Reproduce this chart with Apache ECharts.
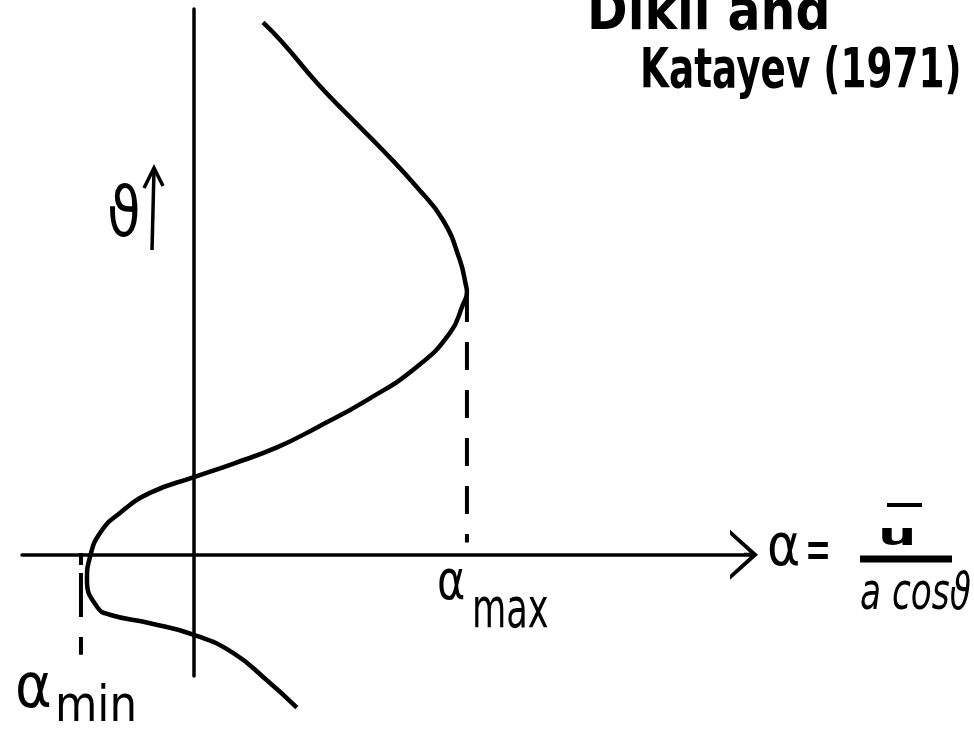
<!DOCTYPE html>
<html>
<head>
<meta charset="utf-8">
<script src="https://cdn.jsdelivr.net/npm/echarts@6/dist/echarts.min.js"></script>
<style>
  html, body { margin: 0; padding: 0; background: #fff; }
  #main { width: 974px; height: 730px; }
</style>
</head>
<body>
<div id="main"></div>
<script>
// alpha profile against latitude (sketch, Dikii and Katayev 1971)
// alpha in units of alpha_max, theta in degrees
const alphaVals = [0.253, 0.326, 0.451, 0.571, 0.692, 0.817, 0.912, 0.974, 0.996, 1.0, 0.985, 0.938, 0.817, 0.634, 0.451, 0.304, 0.143, 0.0, -0.161, -0.271, -0.344, -0.381, -0.392, -0.355, -0.308, -0.161, 0.0, 0.143, 0.267, 0.377];
const thetaVals = [87.8, 84.4, 77.8, 72.2, 66.7, 60.6, 55.2, 48.6, 44.5, 43.3, 41.2, 36.6, 31.0, 25.5, 21.0, 17.7, 15.0, 12.8, 10.2, 6.9, 3.6, -0.4, -4.2, -8.6, -9.9, -11.3, -13.2, -16.2, -20.7, -25.2];

const alphaMax = 1.0;
const alphaMaxDrop = [43.0, 2.0];   // theta range of the dashed drop line
const alphaMin = -0.414;
const alphaMinDrop = [0.3, -16.5];

const xRange = [-0.63, 2.015];
const yRange = [-20, 90];

const chart = echarts.init(document.getElementById('main'), null, { renderer: 'canvas' });

const curve = alphaVals.map((a, i) => [a, thetaVals[i]]);

const FONT = 'DejaVu Sans';

function txt(text, x, y, size, opts) {
  opts = opts || {};
  return {
    type: 'text',
    x: x, y: y,
    scaleX: opts.sx || 1,
    scaleY: opts.sy || 1,
    silent: true,
    style: {
      text: text,
      fontFamily: FONT,
      fontSize: size,
      fontWeight: opts.weight || 'normal',
      fontStyle: opts.style || 'normal',
      fill: '#000',
      textAlign: 'left',
      textVerticalAlign: 'middle'
    }
  };
}

const option = {
  backgroundColor: '#fff',
  animation: false,
  grid: { left: 22, right: 230, top: 9, bottom: 54 },
  xAxis: {
    type: 'value',
    min: xRange[0],
    max: xRange[1],
    axisLine: {
      onZero: true,
      lineStyle: { color: '#000', width: 3.5 },
      symbol: ['none', 'path://M0,28 L25,0 L50,28 L45,28 L25,6 L5,28 Z M23,4 L27,4 L27,14 L23,14 Z'],
      symbolSize: [50, 28]
    },
    axisTick: { show: false },
    axisLabel: { show: false },
    splitLine: { show: false }
  },
  yAxis: {
    type: 'value',
    min: yRange[0],
    max: yRange[1],
    axisLine: { onZero: true, lineStyle: { color: '#000', width: 3.5 } },
    axisTick: { show: false },
    axisLabel: { show: false },
    splitLine: { show: false }
  },
  series: [
    {
      type: 'line',
      data: curve,
      smooth: 0.5,
      symbol: 'none',
      clip: false,
      lineStyle: { color: '#000', width: 4.5 }
    },
    {
      type: 'line',
      data: [[alphaMax, alphaMaxDrop[0]], [alphaMax, alphaMaxDrop[1]]],
      symbol: 'none',
      clip: false,
      lineStyle: { color: '#000', width: 4, type: [28, 20] }
    },
    {
      type: 'line',
      data: [[alphaMin, alphaMinDrop[0]], [alphaMin, alphaMinDrop[1]]],
      symbol: 'none',
      clip: false,
      lineStyle: { color: '#000', width: 4, type: [12, 8, 44, 20, 18, 100] }
    }
  ],
  graphic: [
    // title
    txt('Dikii and', 587, 15, 55, { weight: 'bold', sx: 0.89 }),
    txt('Katayev (1971)', 640, 73, 55, { weight: 'bold', sx: 0.68 }),
    // theta label with arrow
    txt('ϑ', 107, 218, 70, { sx: 0.78 }),
    { type: 'line', silent: true, shape: { x1: 152, y1: 250, x2: 154, y2: 170 },
      style: { stroke: '#000', lineWidth: 3.5 } },
    { type: 'polyline', silent: true, shape: { points: [[144, 188], [154, 168], [163, 186]] },
      style: { stroke: '#000', lineWidth: 3.5, fill: null } },
    // alpha_max
    txt('α', 437, 585, 55, { sx: 0.78 }),
    txt('max', 472, 613, 55, { sx: 0.64 }),
    // alpha_min
    txt('α', 15, 691, 62, { sx: 0.9 }),
    txt('min', 55, 708, 50, { sx: 0.87 }),
    // alpha = u / (a cos theta)
    txt('α', 767, 550, 58, { sx: 0.87 }),
    txt('=', 805, 553, 60, { sx: 0.52 }),
    txt('u', 878, 537, 30, { weight: 'bold', sx: 1.8 }),
    { type: 'line', silent: true, shape: { x1: 887, y1: 505, x2: 922, y2: 505 },
      style: { stroke: '#000', lineWidth: 4 } },
    { type: 'line', silent: true, shape: { x1: 860, y1: 559, x2: 952, y2: 559 },
      style: { stroke: '#000', lineWidth: 7 } },
    txt('a cosϑ', 860, 595, 52, { style: 'italic', sx: 0.66 })
  ]
};

chart.setOption(option);
</script>
</body>
</html>
